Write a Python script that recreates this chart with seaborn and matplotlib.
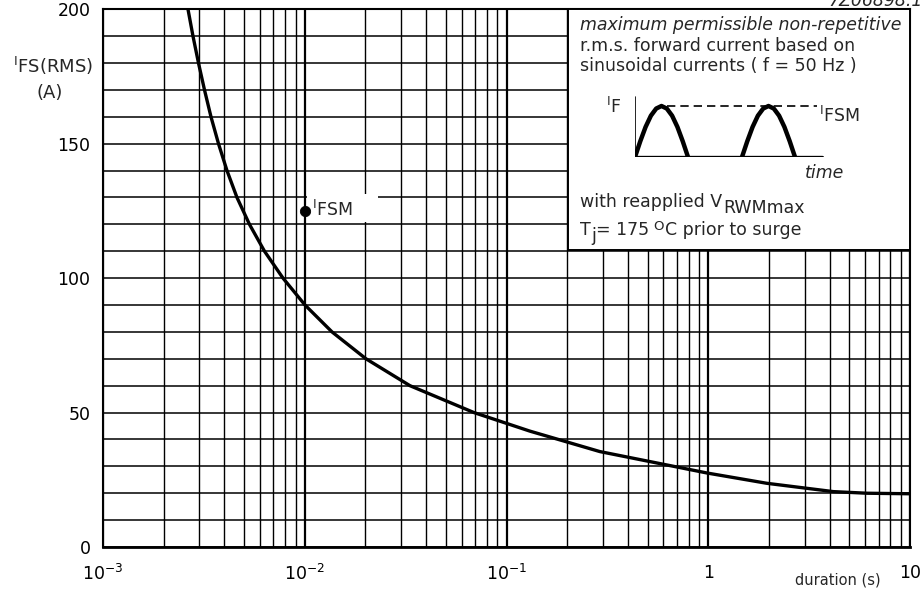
import numpy as np
import pandas as pd
import seaborn as sns
import matplotlib.pyplot as plt
from matplotlib.patches import Rectangle
from matplotlib.ticker import FixedLocator, MultipleLocator, LogLocator, NullFormatter

# surge current curve
duration = [0.002638, 0.002793, 0.002974, 0.003185, 0.00343, 0.003737, 0.004117, 0.004614,
            0.005322, 0.006318, 0.007803, 0.01003, 0.01365, 0.02012, 0.03323, 0.06902,
            0.1306, 0.29, 0.751, 0.99, 1.95, 4.17, 6.12, 10.0]
i_fs_rms = [200, 190, 180, 170, 160, 150, 140, 130,
            120, 110, 100, 90, 80, 70, 60, 50,
            43.1, 35.5, 29.3, 27.5, 23.7, 20.6, 20.0, 19.8]

# I_FSM marker
fsm_t = [0.01]
fsm_i = [125]

x_ticks = [1e-3, 1e-2, 1e-1, 1, 10]
x_labels = [r'$10^{-3}$', r'$10^{-2}$', r'$10^{-1}$', '1', '10']
y_ticks = [0, 50, 100, 150, 200]

# schematic half-sine humps in the little inset sketch
hump_shape = [0, 0.31, 0.59, 0.81, 0.95, 1.0, 0.95, 0.81, 0.59, 0.31, 0]

df = pd.DataFrame({'duration': duration, 'current': i_fs_rms})

sns.set_style('white')
plt.rcParams['font.family'] = ['DejaVu Sans']
plt.rcParams['mathtext.fontset'] = 'dejavusans'
FS = 12.5

W, H = 923, 591
fig = plt.figure(figsize=(W / 100, H / 100), dpi=100)


def fx(px):
    return px / W


def fy(py):
    return 1 - py / H


ax = fig.add_axes([fx(103), fy(547), fx(910) - fx(103), fy(9.3) - fy(547)])

sns.lineplot(data=df, x='duration', y='current', color='black', lw=2.4, ax=ax, zorder=3)
sns.scatterplot(x=fsm_t, y=fsm_i, color='black', s=55, ax=ax, zorder=6, edgecolor='black')

ax.set_xscale('log')
ax.set_xlim(1e-3, 10)
ax.set_ylim(0, 200)

ax.xaxis.set_major_locator(FixedLocator(x_ticks))
ax.set_xticklabels(x_labels)
ax.xaxis.set_minor_locator(LogLocator(base=10, subs=np.arange(2, 10)))
ax.xaxis.set_minor_formatter(NullFormatter())
ax.set_yticks(y_ticks)
ax.yaxis.set_minor_locator(MultipleLocator(10))
ax.tick_params(axis='both', which='both', length=0, labelsize=FS, colors='black')
ax.tick_params(axis='x', pad=12)
ax.tick_params(axis='y', pad=9)

ax.set_axisbelow(True)
ax.grid(which='major', axis='x', color='black', lw=1.6)
ax.grid(which='minor', axis='x', color='black', lw=1.0)
ax.grid(which='both', axis='y', color='black', lw=1.1)
for side in ['left', 'right', 'top']:
    ax.spines[side].set_color('black')
    ax.spines[side].set_linewidth(1.5)
ax.spines['bottom'].set_color('black')
ax.spines['bottom'].set_linewidth(2.0)
ax.set_xlabel('')
ax.set_ylabel('')

# white note box in the upper right corner
ax.add_patch(Rectangle((0.2015, 110.5), 10 - 0.2015, 89.5, facecolor='white',
                       edgecolor='black', lw=1.4, zorder=4))

# white patch behind the I_FSM label (hides the grid there)
ax.add_patch(Rectangle((0.0103, 121), 0.0231 - 0.0103, 10.3, facecolor='white',
                       edgecolor='none', zorder=2))
ax.text(0.0109, 125.3, r'$^{\mathregular{I}}\mathregular{FSM}$', fontsize=FS,
        va='center', ha='left', zorder=5)

# axis titles
fig.text(fx(93), fy(66), r'$^{\mathregular{I}}$FS(RMS)', fontsize=13, ha='right', va='center')
fig.text(fx(50), fy(93), '(A)', fontsize=13, ha='center', va='center')
fig.text(fx(838), fy(580), 'duration (s)', fontsize=10.5, ha='center', va='center')
fig.text(fx(923), fy(0.5), '7Z06898.1', fontsize=FS, ha='right', va='center', style='italic')

# note text
fig.text(fx(580), fy(30), 'maximum permissible non-repetitive', fontsize=FS, style='italic',
         va='baseline')
fig.text(fx(580), fy(51), 'r.m.s. forward current based on', fontsize=FS, va='baseline')
fig.text(fx(580), fy(71), 'sinusoidal currents ( f = 50 Hz )', fontsize=FS, va='baseline')
fig.text(fx(606), fy(113), r'$^{\mathregular{I}}$F', fontsize=FS, va='baseline')
fig.text(fx(819), fy(122), r'$^{\mathregular{I}}$FSM', fontsize=FS, va='baseline')
fig.text(fx(805), fy(178), 'time', fontsize=FS, style='italic', va='baseline')


def after(prev, s, dx=0, dy=0, size=FS):
    # put the next piece of text right behind the previous one
    return ax.annotate(s, xy=(1, 0), xycoords=prev, xytext=(dx, dy),
                       textcoords='offset points', fontsize=size,
                       ha='left', va='bottom', zorder=6)


t1 = ax.text(fx(580), fy(207), 'with reapplied V', fontsize=FS, va='baseline', zorder=6,
             transform=fig.transFigure)
after(t1, 'RWMmax', dx=0.5, dy=-4)
t2 = ax.text(fx(580), fy(235), 'T', fontsize=FS, va='baseline', zorder=6,
             transform=fig.transFigure)
t3 = after(t2, 'j', dx=0.3, dy=-4)
t4 = after(t3, '= 175', dx=0.3, dy=4)
t5 = after(t4, 'O', dx=3, dy=4, size=FS - 3)
after(t5, 'C prior to surge', dx=0.5, dy=-4)

# sketch of the surge waveform
wax = fig.add_axes([fx(635), fy(157), fx(826) - fx(635), fy(95) - fy(157)])
wax.set_xlim(0, 191)
wax.set_ylim(0, 62)
wax.axis('off')
n = len(hump_shape)
hx = np.linspace(0, 53, n)
wax.plot(hx, np.array(hump_shape) * 51, color='black', lw=3.2, solid_capstyle='round')
wax.plot(hx + 107, np.array(hump_shape) * 51, color='black', lw=3.2, solid_capstyle='round')
wax.plot([0, 187], [0, 0], color='black', lw=2.4)
wax.plot([0, 0], [0, 60], color='black', lw=1.2)
wax.plot([32, 182], [51, 51], color='black', lw=1.2, ls=(0, (5, 3)))

fig.savefig('out.png', dpi=100)
